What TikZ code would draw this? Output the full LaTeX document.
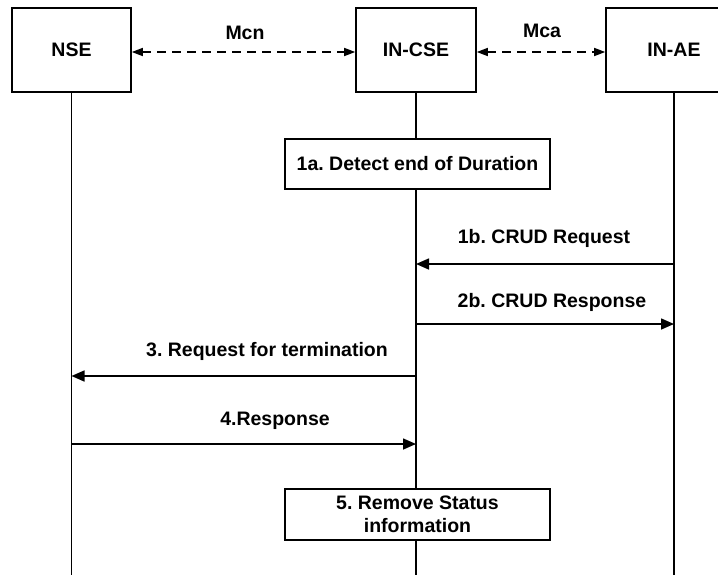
\documentclass[tikz,border=0pt]{standalone}
\usepackage{fontspec}
\setmainfont{Liberation Sans}
\frenchspacing
\usetikzlibrary{arrows.meta,calc}
\begin{document}
\begin{tikzpicture}[x=1pt,y=-1pt,
  every node/.style={font=\fontsize{19.5}{23}\selectfont\bfseries\frenchspacing},
  ent/.style={draw,line width=1.6pt,minimum height=84pt,inner sep=0pt},
  act/.style={draw,fill=white,line width=1.4pt,minimum width=265pt,minimum height=50pt,inner sep=0pt,align=center},
  life/.style={line width=1.5pt},
  msg/.style={line width=1.6pt,-{Triangle[length=13pt,width=11pt]}},
  iface/.style={line width=1.6pt,dash pattern=on 9pt off 6pt,{Triangle[length=11pt,width=8pt]}-{Triangle[length=11pt,width=8pt]}},
  lbl/.style={inner sep=0pt}]
\useasboundingbox (0,0) rectangle (718,574);
\clip (0,0) rectangle (718,574);
% entities
\node[ent,minimum width=119pt] (nse) at (71.5,50) {NSE};
\node[ent,minimum width=120pt] (incse) at (416,50) {IN-CSE\hspace{8pt}};
\node[ent,minimum width=136pt] (inae) at (674,50) {IN-AE\hspace{24pt}};
% helper coordinates
\coordinate (bot) at (0,576);
\coordinate (yi) at (0,52);
\coordinate (y1b) at (0,264);
\coordinate (y2b) at (0,324);
\coordinate (y3) at (0,376);
\coordinate (y4) at (0,444);
% lifelines
\draw[life] (nse.south) -- (nse.south |- bot);
\draw[life] (incse.south) -- (incse.south |- bot);
\draw[life] (inae.south) -- (inae.south |- bot);
% interfaces
\draw[iface] (nse.east |- yi) -- (incse.west |- yi);
\draw[iface] (incse.east |- yi) -- (inae.west |- yi);
\node[lbl] (mcn) at (245,33) {Mcn};
\node[lbl] (mca) at (542,31) {Mca};
% actions
\node[act] (a1) at (417.5,164) {1a. Detect end of Duration};
\node[act,minimum height=51pt] (a5) at (417.5,514.5) {5. Remove Status\\information};
% messages
\draw[msg] (inae.south |- y1b) -- (incse.south |- y1b);
\node[lbl] (l1b) at (544,238) {1b. CRUD Request};
\draw[msg] (incse.south |- y2b) -- (inae.south |- y2b);
\node[lbl] (l2b) at (552,302) {2b. CRUD Response};
\draw[msg] (incse.south |- y3) -- (nse.south |- y3);
\node[lbl] (l3) at (267,351) {3. Request for termination};
\draw[msg] (nse.south |- y4) -- (incse.south |- y4);
\node[lbl] (l4) at (275,421) {4.Response};
\end{tikzpicture}
\end{document}
